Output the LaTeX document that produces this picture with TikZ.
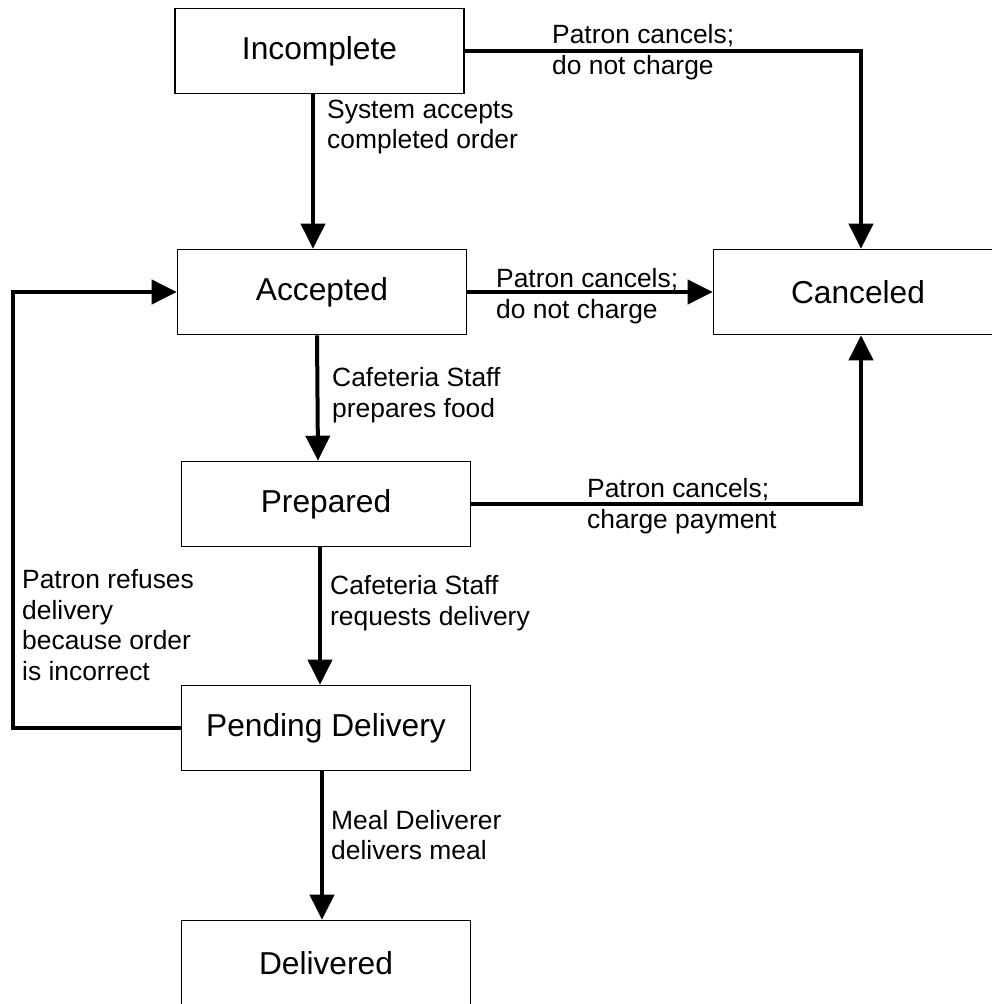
\documentclass[tikz,border=0pt]{standalone}
\usepackage{fontspec}
\setmainfont{Liberation Sans}
\usetikzlibrary{arrows.meta,positioning,calc}
\begin{document}
\begin{tikzpicture}[x=1pt,y=-1pt,
  state/.style={draw=black,line width=1.6pt,minimum width=289pt,minimum height=85pt,inner sep=0pt,font=\fontsize{31.7}{36}\selectfont},
  arr/.style={line width=4pt,-{Triangle[length=25pt,width=24pt]}},
  lbl/.style={inner sep=0pt,align=left,anchor=west,font=\fontsize{26.4}{30.5}\selectfont}]
\useasboundingbox (0,0) rectangle (992,1004);
\node[state] (inc) at (319.5,51) {Incomplete};
\node[state] (acc) at (322,292) {Accepted};
\node[state] (can) at (858,292) {Canceled};
\node[state] (pre) at (326,504) {Prepared};
\node[state] (pen) at (326,728) {Pending Delivery};
\node[state] (del) at (326,963) {Delivered};
\coordinate (loop) at (13,0);
% vertical flow
\draw[arr] ([xshift=-6.5pt]inc.south) -- ([xshift=-9pt]acc.north);
\draw[arr] ([xshift=-5pt]acc.south) -- ([xshift=-8pt]pre.north);
\draw[arr] ([xshift=-6pt]pre.south) -- ([xshift=-6pt]pen.north);
\draw[arr] ([xshift=-4pt]pen.south) -- ([xshift=-4pt]del.north);
% cancels
\draw[arr] (inc.east) -| ([xshift=3pt]can.north);
\draw[arr] (acc.east) -- (can.west);
\draw[arr] (pre.east) -| ([xshift=3pt]can.south);
% loop back
\draw[arr] (pen.west) -- (pen.west -| loop) |- (acc.west);
% labels
\node[lbl] (l1) at (552,52) {Patron cancels;\\do not charge};
\node[lbl] (l2) at (327,127) {System accepts\\completed order};
\node[lbl] (l3) at (496,296) {Patron cancels;\\do not charge};
\node[lbl] (l4) at (332,395) {Cafeteria Staff\\prepares food};
\node[lbl] (l5) at (587,506) {Patron cancels;\\charge payment};
\node[lbl] (l6) at (330,603) {Cafeteria Staff\\requests delivery};
\node[lbl] (l7) at (22,625) {Patron refuses\\delivery\\because order\\is incorrect};
\node[lbl] (l8) at (331,835) {Meal Deliverer\\delivers meal};
\end{tikzpicture}
\end{document}
